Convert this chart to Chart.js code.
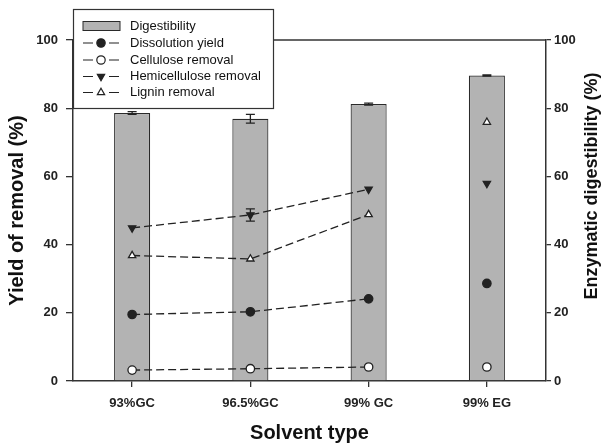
<!DOCTYPE html>
<html>
<head>
<meta charset="utf-8">
<script src="https://cdn.jsdelivr.net/npm/chart.js@4.4.1/dist/chart.umd.min.js"></script>
<style>
  body { margin: 0; background: #fff; }
  #wrap { width: 610px; height: 446px; }
</style>
</head>
<body>
<div id="wrap"><canvas id="myChart" width="610" height="446"></canvas></div>
<script>
const solvents = ['93%GC', '96.5%GC', '99% GC', '99% EG'];
const digestibility = [78.6, 76.9, 81.2, 89.6];
const digestibilityErr = [0.4, 1.3, 0.3, 0.2];
const dissolution = [19.5, 20.3, 24.1, 28.6];
const cellulose = [3.2, 3.6, 4.1, 4.1];
const hemicellulose = [44.9, 48.7, 56.2, 57.9];
const hemicelluloseErr = [0, 1.8, 0, 0];
const lignin = [36.8, 35.8, 48.8, 75.9];
const yTicks = [0, 20, 40, 60, 80, 100];
const rightTitle = 'Enzymatic digestibility (%)';

const ink = '#222';
const frame = '#333';
const family = '"Liberation Sans", Arial, sans-serif';

// last point (99% EG) stands alone, no dashed link to it
function hideLast(ctx) {
    return ctx.p1DataIndex === 3 ? 'rgba(0,0,0,0)' : undefined;
}

function lineSet(label, data, style, fill, rotation) {
    return {
        type: 'line',
        label: label,
        data: data,
        yAxisID: 'y',
        borderColor: ink,
        borderWidth: 1.3,
        borderDash: [8, 4],
        pointStyle: style,
        pointRotation: rotation || 0,
        pointRadius: 4.2,
        pointBackgroundColor: fill,
        pointBorderColor: ink,
        pointBorderWidth: 1.3,
        fill: false,
        tension: 0,
        segment: { borderColor: hideLast },
        order: 1
    };
}

const errorBars = {
    id: 'errorBars',
    afterDatasetsDraw(chart) {
        const ctx = chart.ctx;
        const pairs = [[0, digestibilityErr, 'y1'], [3, hemicelluloseErr, 'y']];
        ctx.save();
        ctx.strokeStyle = ink;
        ctx.lineWidth = 1.3;
        pairs.forEach(([idx, errs, axis]) => {
            const meta = chart.getDatasetMeta(idx);
            const vals = chart.data.datasets[idx].data;
            const scale = chart.scales[axis];
            meta.data.forEach((el, i) => {
                if (!errs[i]) return;
                const x = el.x;
                const yt = scale.getPixelForValue(vals[i] + errs[i]);
                const yb = scale.getPixelForValue(vals[i] - errs[i]);
                ctx.beginPath();
                ctx.moveTo(x, yt); ctx.lineTo(x, yb);
                ctx.moveTo(x - 4.5, yt); ctx.lineTo(x + 4.5, yt);
                ctx.moveTo(x - 4.5, yb); ctx.lineTo(x + 4.5, yb);
                ctx.stroke();
            });
        });
        ctx.restore();
    }
};

const frameAndLegend = {
    id: 'frameAndLegend',
    afterDraw(chart) {
        const ctx = chart.ctx;
        const a = chart.chartArea;
        ctx.save();
        ctx.strokeStyle = frame;
        ctx.lineWidth = 1.5;
        ctx.beginPath();
        ctx.moveTo(a.left, a.top);
        ctx.lineTo(a.right, a.top);
        ctx.stroke();

        // right axis title, read bottom to top like the left one
        ctx.save();
        ctx.translate(592, 186);
        ctx.rotate(-Math.PI / 2);
        ctx.font = 'bold 18px ' + family;
        ctx.fillStyle = '#111';
        ctx.textAlign = 'center';
        ctx.textBaseline = 'middle';
        ctx.fillText(rightTitle, 0, 0);
        ctx.restore();

        // legend box
        const bx = 73, by = 9, bw = 200, bh = 99;
        ctx.fillStyle = '#fff';
        ctx.fillRect(bx, by, bw, bh);
        ctx.lineWidth = 1.2;
        ctx.strokeStyle = frame;
        ctx.strokeRect(bx + 0.5, by + 0.5, bw, bh);

        ctx.font = '13px ' + family;
        ctx.textBaseline = 'middle';
        ctx.textAlign = 'left';
        const rows = [26, 43, 60, 76.5, 92.5];
        chart.data.datasets.forEach((ds, i) => {
            const y = rows[i];
            if (ds.type === 'bar') {
                ctx.fillStyle = ds.backgroundColor;
                ctx.fillRect(83, y - 4.5, 37, 9);
                ctx.strokeStyle = ds.borderColor;
                ctx.lineWidth = 1;
                ctx.strokeRect(83, y - 4.5, 37, 9);
            } else {
                ctx.strokeStyle = ink;
                ctx.lineWidth = 1.2;
                ctx.beginPath();
                ctx.moveTo(83, y); ctx.lineTo(93, y);
                ctx.moveTo(109, y); ctx.lineTo(119, y);
                ctx.stroke();
                ctx.fillStyle = ds.pointBackgroundColor;
                Chart.helpers.drawPoint(ctx, {
                    pointStyle: ds.pointStyle,
                    rotation: ds.pointRotation,
                    radius: 4.2,
                    borderWidth: 1.3
                }, 101, y);
            }
            ctx.fillStyle = '#111';
            ctx.fillText(ds.label, 130, y);
        });
        ctx.restore();
    }
};

const tickFont = { family: family, size: 13, weight: 'bold' };

new Chart(document.getElementById('myChart'), {
    type: 'bar',
    data: {
        labels: solvents,
        datasets: [
            {
                type: 'bar',
                label: 'Digestibility',
                data: digestibility,
                yAxisID: 'y1',
                backgroundColor: '#b3b3b3',
                borderColor: '#2a2a2a',
                borderWidth: 1.2,
                categoryPercentage: 1,
                barPercentage: 0.305,
                order: 5
            },
            lineSet('Dissolution yield', dissolution, 'circle', ink),
            lineSet('Cellulose removal', cellulose, 'circle', '#fff'),
            lineSet('Hemicellulose removal', hemicellulose, 'triangle', ink, 180),
            lineSet('Lignin removal', lignin, 'triangle', '#fff')
        ]
    },
    options: {
        responsive: false,
        animation: false,
        layout: { padding: { top: 40, left: 0, right: 0, bottom: 0 } },
        plugins: {
            legend: { display: false },
            tooltip: { enabled: false }
        },
        scales: {
            x: {
                afterFit: (s) => { s.height = 65; },
                grid: { offset: false, drawOnChartArea: false, drawTicks: true, tickLength: 6, color: frame, lineWidth: 1.3 },
                border: { display: true, color: frame, width: 1.5 },
                ticks: { font: tickFont, color: ink, padding: 9, maxRotation: 0 },
                title: {
                    display: true, text: 'Solvent type', color: '#111',
                    font: { family: family, size: 20, weight: 'bold' },
                    padding: { top: 0, bottom: 1 }
                }
            },
            y: {
                position: 'left',
                min: 0, max: 100,
                afterFit: (s) => { s.width = 73; },
                afterBuildTicks: (s) => { s.ticks = yTicks.map(v => ({ value: v })); },
                grid: { drawOnChartArea: false, drawTicks: true, tickLength: 7, color: frame, lineWidth: 1.3 },
                border: { display: true, color: frame, width: 1.5 },
                ticks: { font: tickFont, color: ink, padding: 8 },
                title: {
                    display: true, text: 'Yield of removal (%)', color: '#111',
                    font: { family: family, size: 20, weight: 'bold' },
                    padding: { top: 5, bottom: 0 }
                }
            },
            y1: {
                position: 'right',
                min: 0, max: 100,
                afterFit: (s) => { s.width = 64; },
                afterBuildTicks: (s) => { s.ticks = yTicks.map(v => ({ value: v })); },
                grid: { drawOnChartArea: false, drawTicks: true, tickLength: 5, color: frame, lineWidth: 1.3 },
                border: { display: true, color: frame, width: 1.5 },
                ticks: { font: tickFont, color: ink, padding: 3 }
            }
        }
    },
    plugins: [errorBars, frameAndLegend]
});
</script>
</body>
</html>
